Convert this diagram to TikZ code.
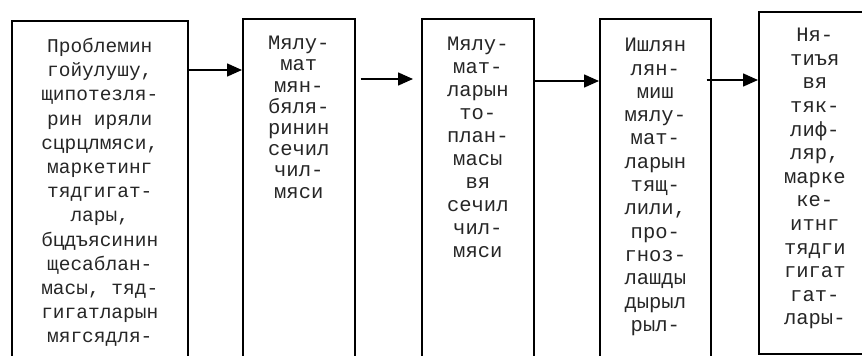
\documentclass[tikz,border=0pt]{standalone}
\usepackage{fontspec}
\setmonofont{Liberation Mono}
\usetikzlibrary{arrows.meta,calc}
\begin{document}
\begin{tikzpicture}[x=1pt,y=-1pt,
  box/.style={draw, line width=1.6pt, rectangle, inner sep=0pt, anchor=north west},
  txt/.style n args={2}{anchor=north, inner sep=0pt, align=center, text=black!85,
      font=\ttfamily\fontsize{#1}{#2}\selectfont},
  arr/.style={line width=1.6pt, -{Triangle[length=15pt,width=13pt]}}]
\useasboundingbox (0,0) rectangle (862,356);
\clip (0,0) rectangle (862,356);
% boxes
\node[box, minimum width=176pt, minimum height=380pt] (b1) at (11,20) {};
\node[box, minimum width=112pt, minimum height=380pt] (b2) at (242,18) {};
\node[box, minimum width=112pt, minimum height=380pt] (b3) at (421,18) {};
\node[box, minimum width=111pt, minimum height=380pt] (b4) at (599,18) {};
\node[box, minimum width=112pt, minimum height=342pt] (b5) at (758,11) {};
% texts
\node[txt={19.5}{24.2}] (t1) at ($(b1.north)+(0,18)$)
  {Проблемин\\гойулушу,\\щипотезля-\\рин иряли\\сцрцлмяси,\\маркетинг\\тядгигат-\\лары,\\бцдъясинин\\щесаблан-\\масы, тяд-\\гигатларын\\мягсядля-};
\node[txt={20.5}{21.2}] (t2) at ($(b2.north)+(0,18)$)
  {Мялу-\\мат\\мян-\\бяля-\\ринин\\сечил\\чил-\\мяси};
\node[txt={20.5}{23}] (t3) at ($(b3.north)+(0,19)$)
  {Мялу-\\мат-\\ларын\\то-\\план-\\масы\\вя\\сечил\\чил-\\мяси};
\node[txt={20.5}{23.3}] (t4) at ($(b4.north)+(0,20)$)
  {Ишлян\\лян-\\миш\\мялу-\\мат-\\ларын\\тящ-\\лили,\\про-\\гноз-\\лашды\\дырыл\\рыл-};
\node[txt={20.5}{23.6}] (t5) at ($(b5.north)+(0,17)$)
  {Ня-\\тиъя\\вя\\тяк-\\лиф-\\ляр,\\марке\\ке-\\итнг\\тядги\\гигат\\гат-\\лары-};
% arrows
\draw[arr] (b1.east |- 0,70) -- (b2.west |- 0,70);
\draw[arr] ($(b2.east |- 0,79)+(5,0)$) -- ($(b3.west |- 0,79)+(-8,0)$);
\draw[arr] (b3.east |- 0,81) -- (b4.west |- 0,81);
\draw[arr] ($(b4.east |- 0,80)+(-5,0)$) -- (b5.west |- 0,80);
\end{tikzpicture}
\end{document}
